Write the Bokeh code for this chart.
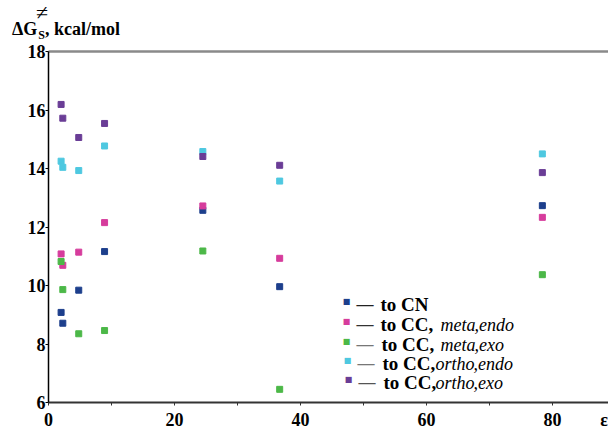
from bokeh.plotting import figure
from bokeh.models import Range1d, LinearAxis, FixedTicker, Label, Div
from bokeh.layouts import column
from bokeh.embed import file_html
from bokeh.resources import INLINE

# ---------------- data ----------------
eps = [2.0, 2.27, 4.8, 8.9, 24.5, 36.7, 78.4]
to_cn = [9.08, 8.71, 9.84, 11.16, 12.57, 9.96, 12.73]
meta_endo = [11.08, 10.69, 11.14, 12.15, 12.72, 10.93, 12.33]
meta_exo = [10.82, 9.86, 8.35, 8.46, 11.18, 6.45, 10.37]
ortho_endo = [14.25, 14.04, 13.93, 14.77, 14.58, 13.57, 14.50]
ortho_exo = [16.19, 15.72, 15.06, 15.54, 14.41, 14.11, 13.86]

series = [to_cn, meta_endo, meta_exo, ortho_endo, ortho_exo]
colors = ["#1d3f8c", "#d63c9c", "#4cb848", "#4ec8e0", "#6a3d96"]
legend_text = [
    [("to CN", "bold")],
    [("to CC,", "bold"), ("meta", "italic"), (",endo", "italic")],
    [("to CC,", "bold"), ("meta", "italic"), (",exo", "italic")],
    [("to CC,", "bold"), ("ortho", "italic"), (",endo", "italic")],
    [("to CC,", "bold"), ("ortho", "italic"), (",exo", "italic")],
]
x_labels = {0: "0", 20: "20", 40: "40", 60: "60", 80: "80", 88.2: "ε"}
x_tick_marks = [0, 10, 20, 30, 40, 50, 60, 70, 80]
y_ticks = [6, 8, 10, 12, 14, 16, 18]

FONT = "Liberation Serif"
TOP_H = 40

# ---------------- y-axis title (HTML, with sub/superscript) ----------------
FF = "font-family:'Liberation Serif','Times New Roman',serif;"
title_html = (
    "<div style=\"" + FF + "padding:20px 0 0 12px;margin:0;height:20px;"
    "line-height:18px;font-size:18px;white-space:nowrap;color:black;\">"
    "<span style=\"" + FF + "font-weight:bold;font-size:18px;\">ΔG</span>"
    "<span style=\"" + FF + "font-weight:bold;font-size:12px;position:relative;"
    "top:4px;margin-left:1px;\">S</span>"
    "<span style=\"" + FF + "font-size:22px;line-height:0;position:relative;"
    "top:-15px;margin-left:-9px;\">≠</span>"
    "<span style=\"" + FF + "font-weight:bold;font-size:18px;margin-left:-3px;\">"
    ", kcal/mol</span>"
    "</div>"
)
header = Div(text=title_html, width=608, height=TOP_H, margin=(0, 0, 0, 0))

# ---------------- figure ----------------
p = figure(width=608, height=432 - TOP_H, output_backend="svg",
           toolbar_location=None,
           x_range=Range1d(0, 88.9), y_range=Range1d(6, 18),
           min_border_left=48, min_border_right=0, min_border_top=11,
           min_border_bottom=27, margin=(0, 0, 0, 0))
p.outline_line_color = None
p.grid.visible = False
p.background_fill_color = "white"
p.border_fill_color = "white"

for vals, c in zip(series, colors):
    p.scatter(eps, vals, marker="square", size=6, fill_color=c, line_color=c)

xa = p.xaxis[0]
xa.ticker = FixedTicker(ticks=list(x_labels.keys()), minor_ticks=x_tick_marks)
xa.major_label_overrides = x_labels
xa.major_tick_in = 0
xa.major_tick_out = 0
xa.minor_tick_in = 0
xa.minor_tick_out = 3
xa.axis_line_width = 2
xa.axis_line_color = "#333333"
xa.minor_tick_line_color = "#333333"
xa.minor_tick_line_width = 1
xa.major_label_standoff = 4
xa.major_label_text_font = FONT
xa.major_label_text_font_style = "bold"
xa.major_label_text_font_size = "18px"
xa.major_label_text_color = "black"

ya = p.yaxis[0]
ya.ticker = FixedTicker(ticks=y_ticks)
ya.major_tick_in = 0
ya.major_tick_out = 3
ya.minor_tick_line_color = None
ya.axis_line_width = 1.5
ya.axis_line_color = "black"
ya.major_tick_line_color = "black"
ya.major_label_standoff = 0
ya.major_label_text_font = FONT
ya.major_label_text_font_style = "bold"
ya.major_label_text_font_size = "18px"
ya.major_label_text_color = "black"

top = LinearAxis(ticker=FixedTicker(ticks=[]), axis_line_color="#8a8a8a",
                 axis_line_width=2.5, major_tick_line_color=None,
                 minor_tick_line_color=None, major_label_text_font_size="0px")
p.add_layout(top, "above")

# legend drawn inside the frame (frame-relative screen units)
FL, FB = 48, 405   # page position of frame left / bottom


def lab(text, px, py, size, style="bold", baseline="middle", color="black",
        font=FONT, align="left"):
    p.add_layout(Label(x=px - FL, y=FB - py, x_units="screen", y_units="screen",
                       text=text, text_font=font, text_font_size=size,
                       text_font_style=style, text_baseline=baseline,
                       text_align=align, text_color=color))


row_y = [307, 327, 347, 366, 385]
marker_x = [346, 346, 346, 347, 348]
dash_x = [356, 356, 356, 357, 358]
dash_col = ["#222222", "#333333", "#777777", "#777777", "#555555"]
seg_x = [
    [380],
    [380, 440, 474],
    [381, 440, 474],
    [382, 435, 473],
    [383, 435, 473],
]
for i, row in enumerate(legend_text):
    lab("■", marker_x[i], row_y[i] - 3, "8px", style="normal", color=colors[i],
        font="DejaVu Sans", align="center")
    lab("—", dash_x[i], row_y[i], "17px", style="bold", color=dash_col[i])
    for (t, st), sx in zip(row, seg_x[i]):
        lab(t, sx, row_y[i], "19px" if st == "bold" else "18px", style=st)

layout = column(header, p, spacing=0, margin=(0, 0, 0, 0))
open("out.html", "w").write(file_html(layout, INLINE))
